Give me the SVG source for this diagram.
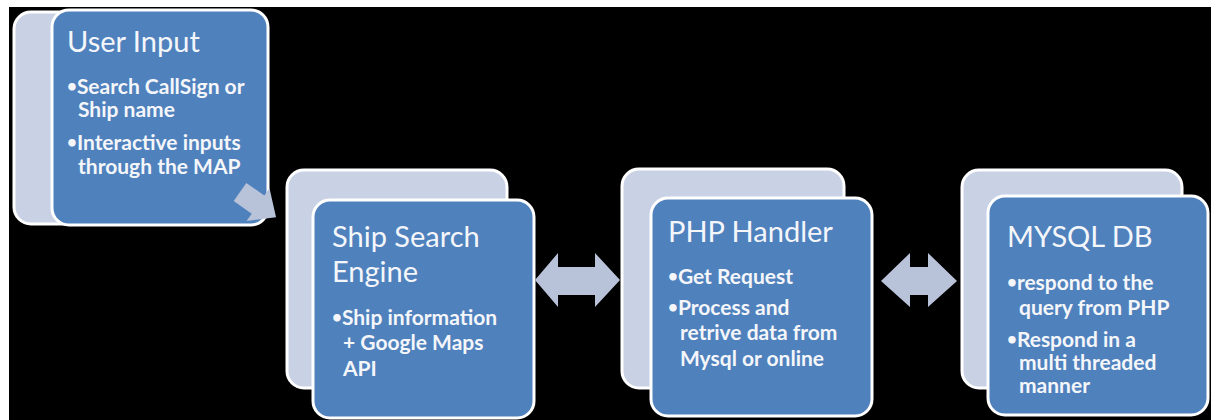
<svg xmlns="http://www.w3.org/2000/svg" width="1217" height="420" viewBox="0 0 1217 420">
<style>
.back{fill:#c9d1e4;stroke:#ffffff;stroke-width:3}
.front{fill:#4f81bd;stroke:#ffffff;stroke-width:3}
.arrow{fill:#b8c2d9}
.title{font-family:Lato,"Liberation Sans",sans-serif;font-size:29px;fill:#f4f6fa}
.body{font-family:Lato,"Liberation Sans",sans-serif;font-size:21px;font-weight:bold;fill:#f4f6fa}
.b{font-size:17px}
</style>
<rect x="0" y="0" width="1217" height="420" fill="#ffffff"/>
<rect x="9" y="7" width="1202" height="413" fill="#000000"/>
<g id="node-user-input">
<rect class="back" x="14" y="12" width="215" height="212" rx="17"/>
<rect class="front" x="52" y="10" width="216" height="215" rx="17"/>
<text class="title" x="67" y="52">User Input</text>
<text class="body" x="67" y="94"><tspan class="b" dy="-2">•</tspan><tspan dy="2">Search CallSign or</tspan></text>
<text class="body" x="78" y="117">Ship name</text>
<text class="body" x="67" y="150"><tspan class="b" dy="-2">•</tspan><tspan dy="2">Interactive inputs</tspan></text>
<text class="body" x="78" y="174">through the MAP</text>
</g>
<g id="node-ship-search">
<rect class="back" x="287" y="170" width="220" height="218" rx="17"/>
<rect class="front" x="313" y="200" width="221" height="218" rx="17"/>
<text class="title" x="332" y="247">Ship Search</text>
<text class="title" x="332" y="282">Engine</text>
<text class="body" x="332" y="325"><tspan class="b" dy="-2">•</tspan><tspan dy="2">Ship information</tspan></text>
<text class="body" x="343" y="350">+ Google Maps</text>
<text class="body" x="343" y="376">API</text>
</g>
<g id="node-php">
<rect class="back" x="622" y="169" width="222" height="219" rx="17"/>
<rect class="front" x="651" y="198" width="221" height="218" rx="17"/>
<text class="title" x="668" y="242">PHP Handler</text>
<text class="body" x="668" y="284"><tspan class="b" dy="-2">•</tspan><tspan dy="2">Get Request</tspan></text>
<text class="body" x="668" y="315"><tspan class="b" dy="-2">•</tspan><tspan dy="2">Process and</tspan></text>
<text class="body" x="680" y="340">retrive data from</text>
<text class="body" x="680" y="366">Mysql or online</text>
</g>
<g id="node-mysql">
<rect class="back" x="962" y="170" width="220" height="218" rx="17"/>
<rect class="front" x="988" y="196" width="220" height="219" rx="17"/>
<text class="title" x="1007" y="247">MYSQL DB</text>
<text class="body" x="1007" y="290"><tspan class="b" dy="-2">•</tspan><tspan dy="2">respond to the</tspan></text>
<text class="body" x="1019" y="315">query from PHP</text>
<text class="body" x="1007" y="347"><tspan class="b" dy="-2">•</tspan><tspan dy="2">Respond in a</tspan></text>
<text class="body" x="1019" y="370">multi threaded</text>
<text class="body" x="1019" y="393">manner</text>
</g>
<g id="connectors">
<polygon class="arrow" transform="translate(240,192) rotate(35)" points="0,-11 22,-11 22,-20 44,0 22,20 22,11 0,11"/>
<polygon class="arrow" points="535,280 558,253 558,267 595,267 595,253 620,280 595,307 595,295 558,295 558,307"/>
<polygon class="arrow" points="881,281 910,253 910,267 928,267 928,253 957,281 928,307 928,295 910,295 910,307"/>
</g>
</svg>
